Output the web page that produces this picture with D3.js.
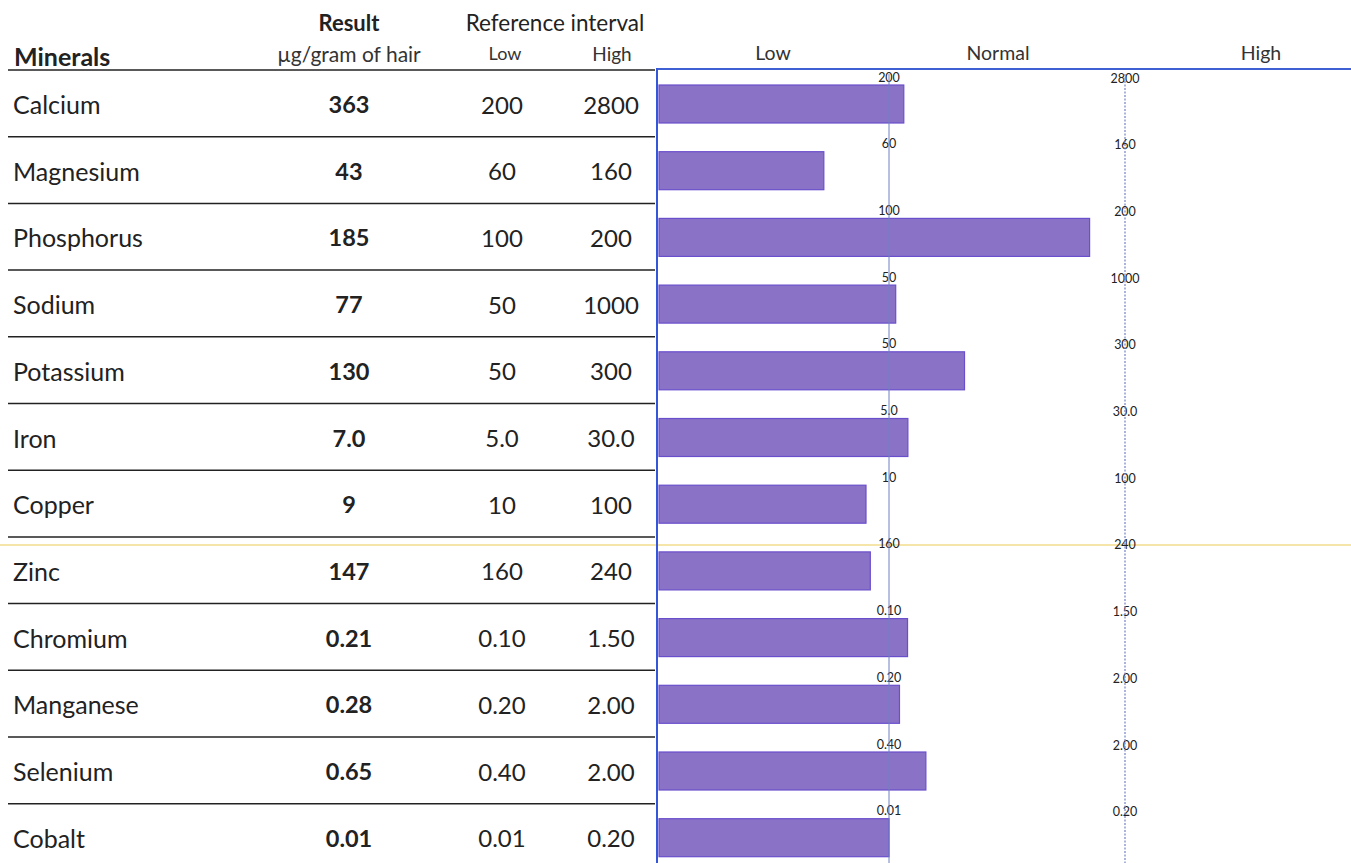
<!DOCTYPE html>
<html>
<head>
<meta charset="utf-8">
<script src="https://cdn.jsdelivr.net/npm/d3@7/dist/d3.min.js"></script>
<style>
html,body{margin:0;padding:0;background:#fff;}
svg{display:block;font-family:Lato,"Open Sans",sans-serif;}
</style>
</head>
<body>
<svg id="chart" width="1351" height="863"></svg>
<script>
// ---- data ----
const minerals = ["Calcium","Magnesium","Phosphorus","Sodium","Potassium","Iron","Copper","Zinc","Chromium","Manganese","Selenium","Cobalt"];
const results  = [363, 43, 185, 77, 130, 7.0, 9, 147, 0.21, 0.28, 0.65, 0.01];
const resultLabels = ["363","43","185","77","130","7.0","9","147","0.21","0.28","0.65","0.01"];
const lows     = [200, 60, 100, 50, 50, 5.0, 10, 160, 0.10, 0.20, 0.40, 0.01];
const lowLabels  = ["200","60","100","50","50","5.0","10","160","0.10","0.20","0.40","0.01"];
const highs    = [2800, 160, 200, 1000, 300, 30.0, 100, 240, 1.50, 2.00, 2.00, 0.20];
const highLabels = ["2800","160","200","1000","300","30.0","100","240","1.50","2.00","2.00","0.20"];
const zoneLabels = ["Low","Normal","High"];

(function(){
const svg = d3.select("#chart");

// layout
const tableLeft = 8, tableRight = 655;
const chartX0 = 659, xLowLine = 889, xHighLine = 1125, chartRight = 1351;
const topY = 70, rowH = 66.7;

const y = d3.scaleBand().domain(minerals).range([topY, topY + rowH * minerals.length]).paddingInner(0).paddingOuter(0);

// headers
svg.append("text").attr("x",349).attr("y",22).attr("dominant-baseline","central").attr("text-anchor","middle")
  .attr("font-size",22).attr("font-weight","bold").attr("fill","#222").text("Result");
svg.append("text").attr("x",555).attr("y",22).attr("dominant-baseline","central").attr("text-anchor","middle")
  .attr("font-size",22.5).attr("fill","#222").text("Reference interval");
svg.append("text").attr("x",14).attr("y",56).attr("dominant-baseline","central")
  .attr("font-size",25).attr("font-weight","bold").attr("fill","#222").text("Minerals");
svg.append("text").attr("x",349).attr("y",53).attr("dominant-baseline","central").attr("text-anchor","middle")
  .attr("font-size",21).attr("fill","#333").text("µg/gram of hair");
svg.append("text").attr("x",505).attr("y",53).attr("dominant-baseline","central").attr("text-anchor","middle")
  .attr("font-size",18).attr("fill","#333").text("Low");
svg.append("text").attr("x",612).attr("y",53).attr("dominant-baseline","central").attr("text-anchor","middle")
  .attr("font-size",19).attr("fill","#333").text("High");

const zoneCenters = {"Low":773,"Normal":998,"High":1261};
svg.selectAll("text.zone").data(zoneLabels).enter().append("text")
  .attr("class","zone")
  .attr("x", d => zoneCenters[d]).attr("y",52).attr("dominant-baseline","central").attr("text-anchor","middle")
  .attr("font-size",19.5).attr("fill","#333").text(d => d);

// table separators
svg.append("line").attr("x1",tableLeft).attr("x2",tableRight).attr("y1",topY).attr("y2",topY)
  .attr("stroke","#222").attr("stroke-width",1.5);
svg.selectAll("line.sep").data(minerals.slice(0,-1)).enter().append("line")
  .attr("class","sep")
  .attr("x1",tableLeft).attr("x2",tableRight)
  .attr("y1", d => y(d) + y.bandwidth()).attr("y2", d => y(d) + y.bandwidth())
  .attr("stroke","#222").attr("stroke-width",1.5);

// yellow line
svg.append("line").attr("x1",0).attr("x2",chartRight).attr("y1",545).attr("y2",545)
  .attr("stroke","#f3dc8c").attr("stroke-width",1.5);

// table text
const rows = svg.selectAll("g.row").data(minerals).enter().append("g").attr("class","row");
rows.append("text").attr("x",13).attr("y", d => y(d) + 34).attr("dominant-baseline","central")
  .attr("font-size",25).attr("fill","#222").text(d => d);
rows.append("text").attr("x",349).attr("y", d => y(d) + 34).attr("dominant-baseline","central")
  .attr("text-anchor","middle").attr("font-size",23.5).attr("font-weight","bold").attr("fill","#222")
  .text((d,i) => resultLabels[i]);
rows.append("text").attr("x",502).attr("y", d => y(d) + 34).attr("dominant-baseline","central")
  .attr("text-anchor","middle").attr("font-size",24).attr("fill","#222")
  .text((d,i) => lowLabels[i]);
rows.append("text").attr("x",611).attr("y", d => y(d) + 34).attr("dominant-baseline","central")
  .attr("text-anchor","middle").attr("font-size",24).attr("fill","#222")
  .text((d,i) => highLabels[i]);

// reference lines
svg.append("line").attr("x1",xLowLine).attr("x2",xLowLine).attr("y1",topY+4).attr("y2",863)
  .attr("stroke","#6f80c4").attr("stroke-width",1);
svg.append("line").attr("x1",xHighLine).attr("x2",xHighLine).attr("y1",topY+4).attr("y2",863)
  .attr("stroke","#7f8cc8").attr("stroke-width",1.3).attr("stroke-dasharray","2,1.5");

// bars, through a per-row piecewise scale
rows.each(function(d,i){
  const g = d3.select(this);
  const x = d3.scaleLinear().domain([0, lows[i], highs[i]]).range([chartX0, xLowLine, xHighLine]);
  g.append("rect")
    .attr("x", x(0)).attr("y", y(d) + 15)
    .attr("width", x(results[i]) - x(0)).attr("height", 38)
    .attr("fill","#8a72c6").attr("stroke","#6a4fcc").attr("stroke-width",1.2);
  g.append("text").attr("x", x(lows[i])).attr("y", y(d) + 7).attr("dominant-baseline","central")
    .attr("text-anchor","middle").attr("font-size",12.5).attr("fill","#222").text(lowLabels[i]);
  g.append("text").attr("x", x(highs[i])).attr("y", y(d) + 8).attr("dominant-baseline","central")
    .attr("text-anchor","middle").attr("font-size",12.5).attr("fill","#222").text(highLabels[i]);
});

// chart frame
svg.append("line").attr("x1",657).attr("x2",chartRight).attr("y1",69).attr("y2",69)
  .attr("stroke","#3f5fd4").attr("stroke-width",2);
svg.append("line").attr("x1",657).attr("x2",657).attr("y1",68).attr("y2",863)
  .attr("stroke","#3456d8").attr("stroke-width",2);
})();
</script>
</body>
</html>
